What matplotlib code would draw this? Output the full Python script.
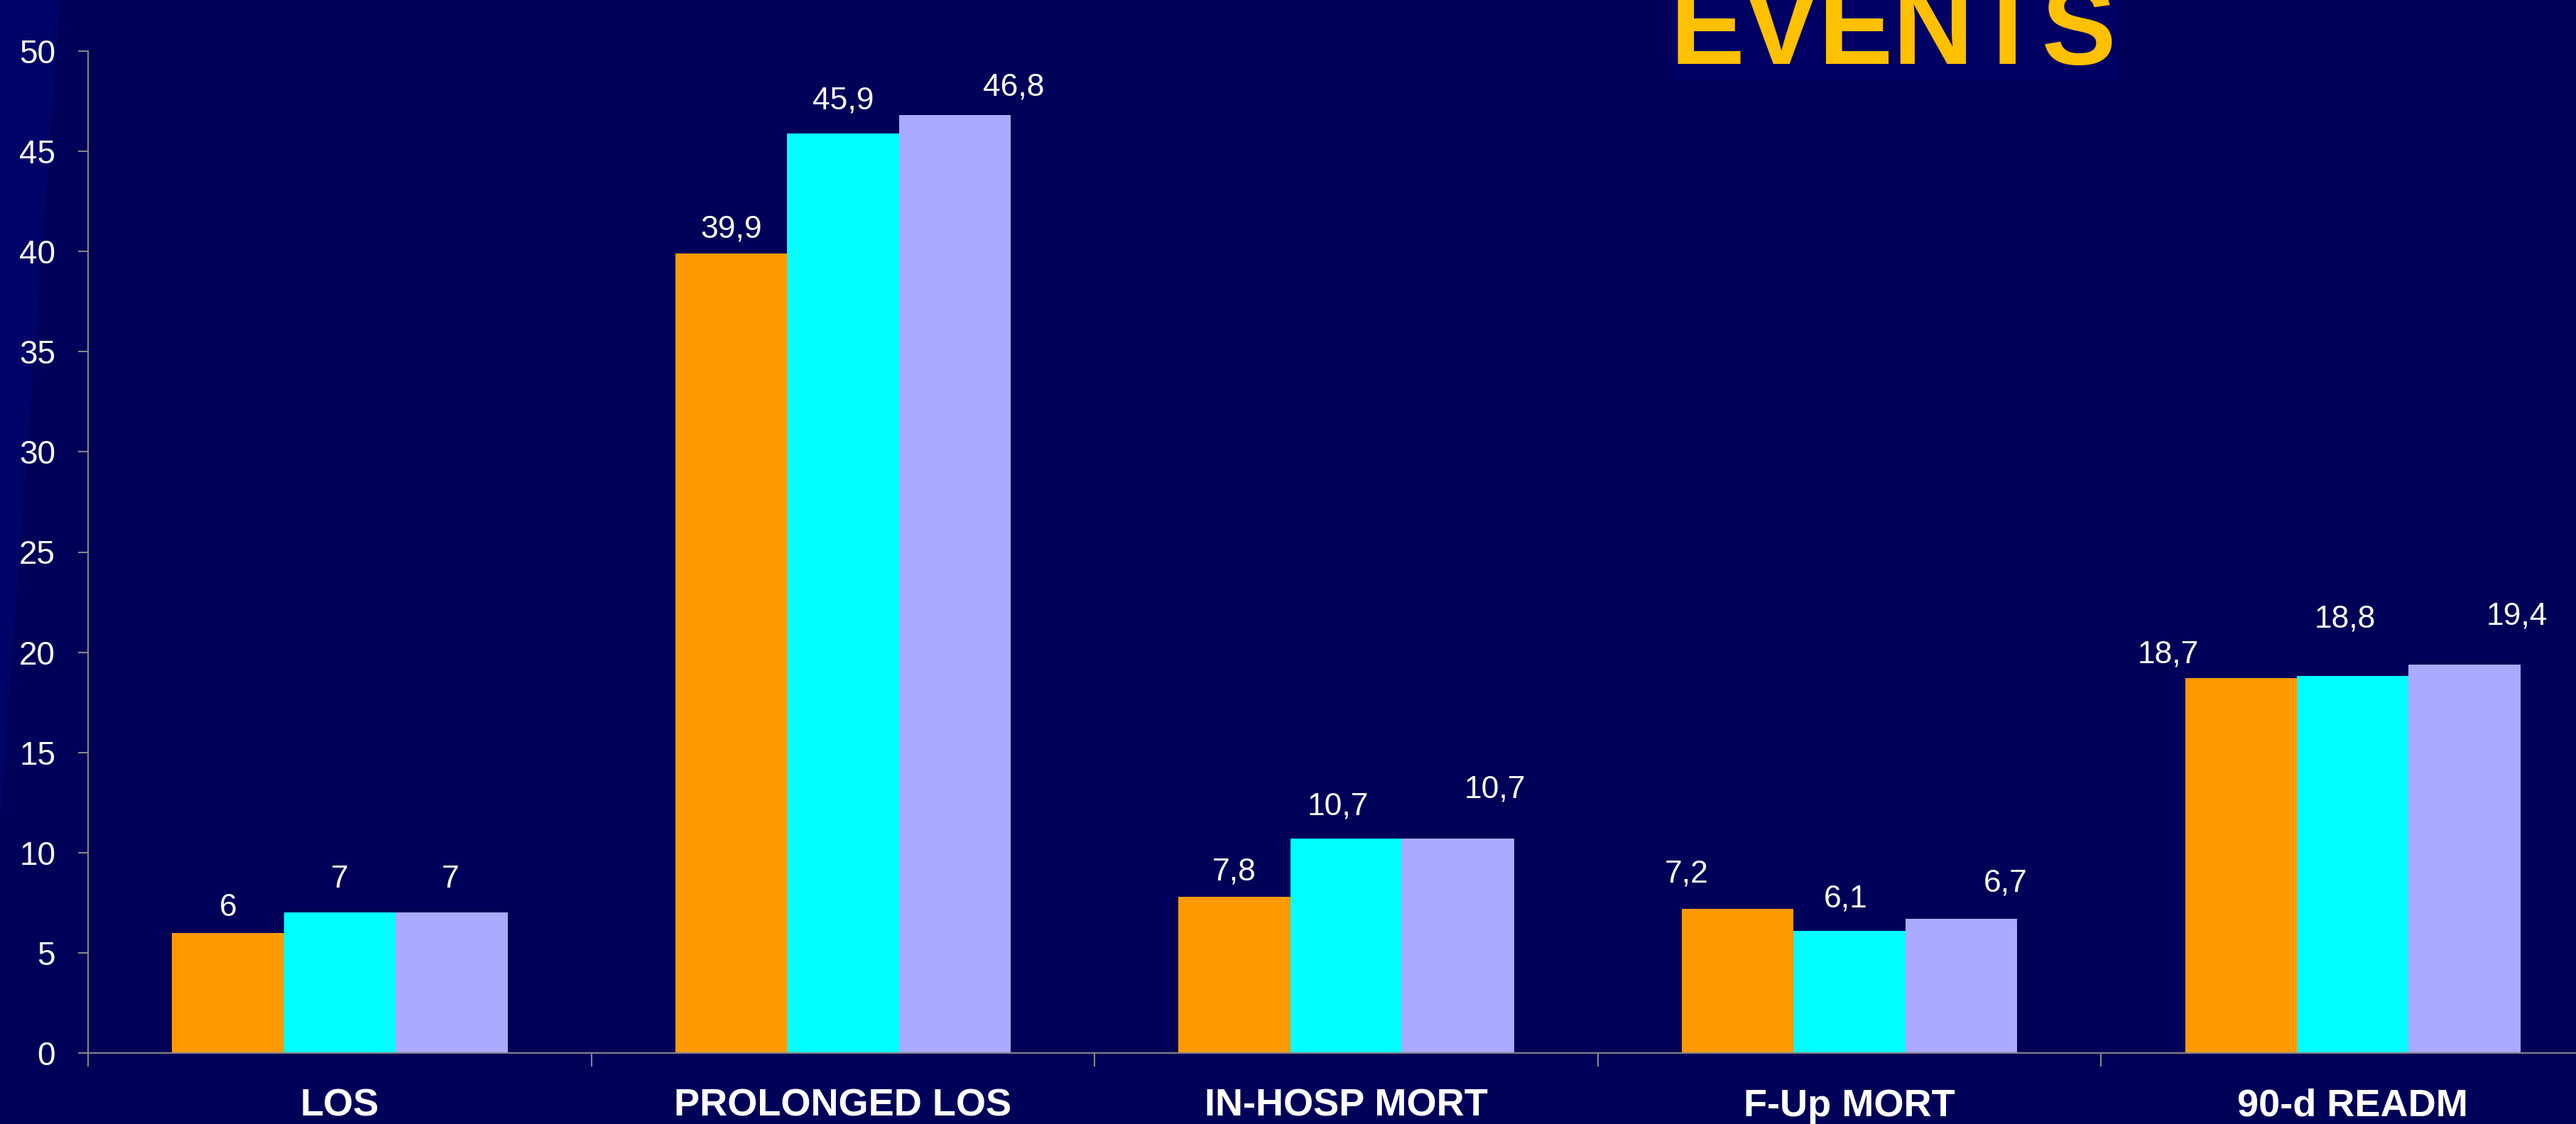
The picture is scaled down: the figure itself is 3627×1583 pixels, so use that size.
import numpy as np
import matplotlib
matplotlib.use("Agg")
import matplotlib.pyplot as plt
from matplotlib.patches import Polygon, Rectangle

categories = ["LOS", "PROLONGED LOS", "IN-HOSP MORT", "F-Up MORT", "90-d READM"]
series_a = [6, 39.9, 7.8, 7.2, 18.7]
series_b = [7, 45.9, 10.7, 6.1, 18.8]
series_c = [7, 46.8, 10.7, 6.7, 19.4]

colors = ["#FF9900", "#00FFFF", "#AAAAFF"]
bg = "#000058"

# hand-placed label nudges (dx, dy above bar top), in pixels
label_nudge = [
    [(0, 24), (0, 35), (-2, 35)],
    [(0, 23), (0, 34), (83, 28)],
    [(0, 23), (-12, 34), (52, 58)],
    [(-72, 37), (-5, 33), (62, 38)],
    [(-102, 22), (-11, 69), (74, 56)],
]

DPI = 100
W, H = 3627, 1583
fig = plt.figure(figsize=(W / DPI, H / DPI), dpi=DPI, facecolor=bg)
px = 72.0 / DPI  # pixels -> points

# lighter wedge down the left edge and the box behind the heading
fig.patches.append(Polygon([[0, 1], [85 / W, 1], [0, 1 - 1160 / H]],
                           closed=True, transform=fig.transFigure,
                           facecolor="#000468", edgecolor="none", zorder=-5))
fig.patches.append(Rectangle((2349 / W, 1 - 113 / H), 632 / W, 113 / H,
                             transform=fig.transFigure, facecolor="#000064",
                             edgecolor="none", zorder=-5))
fig.text(2351 / W, 1 - 90 / H, "EVENTS", family="Liberation Sans",
         weight="bold", fontsize=113, color="#FFC000", va="baseline", ha="left")

ax = fig.add_axes([124 / W, 1 - 1483 / H, 3543 / W, 1411 / H])
ax.set_facecolor("none")
ax.set_zorder(2)

x = np.arange(len(categories))
w = 1 / 4.5
all_series = [series_a, series_b, series_c]
for j, (vals, col) in enumerate(zip(all_series, colors)):
    bars = ax.bar(x + (j - 1) * w, vals, width=w, color=col, edgecolor="none", zorder=2)
    for i, (b, v) in enumerate(zip(bars, vals)):
        dx, dy = label_nudge[i][j]
        txt = f"{v:g}".replace(".", ",")
        ax.annotate(txt, (b.get_x() + b.get_width() / 2, v),
                    xytext=(dx * px, dy * px), textcoords="offset points",
                    ha="center", va="baseline", color="white", fontsize=32,
                    family="Liberation Sans")

ax.set_xlim(-0.5, len(categories) - 0.5)
ax.set_ylim(0, 50)
ax.set_yticks(np.arange(0, 51, 5))

ax.set_xticks(x)
ax.set_xticklabels(categories, fontsize=39, fontweight="bold", color="white",
                   family="Liberation Sans")
ax.set_xticks(np.arange(-0.5, len(categories)), minor=True)
ax.tick_params(axis="x", which="major", length=0, pad=36)
ax.tick_params(axis="x", which="minor", length=19 * px, width=1.5,
               color="#868686", direction="out")
ax.tick_params(axis="y", length=14 * px, width=1.5, color="#868686",
               labelcolor="white", labelsize=33, pad=23)
for lab in ax.get_yticklabels():
    lab.set_family("Liberation Sans")

for side in ("top", "right"):
    ax.spines[side].set_visible(False)
for side in ("left", "bottom"):
    ax.spines[side].set_color("#868686")
    ax.spines[side].set_linewidth(1.5)
    ax.spines[side].set_zorder(3)

fig.savefig("out.png", dpi=DPI, facecolor=bg)
